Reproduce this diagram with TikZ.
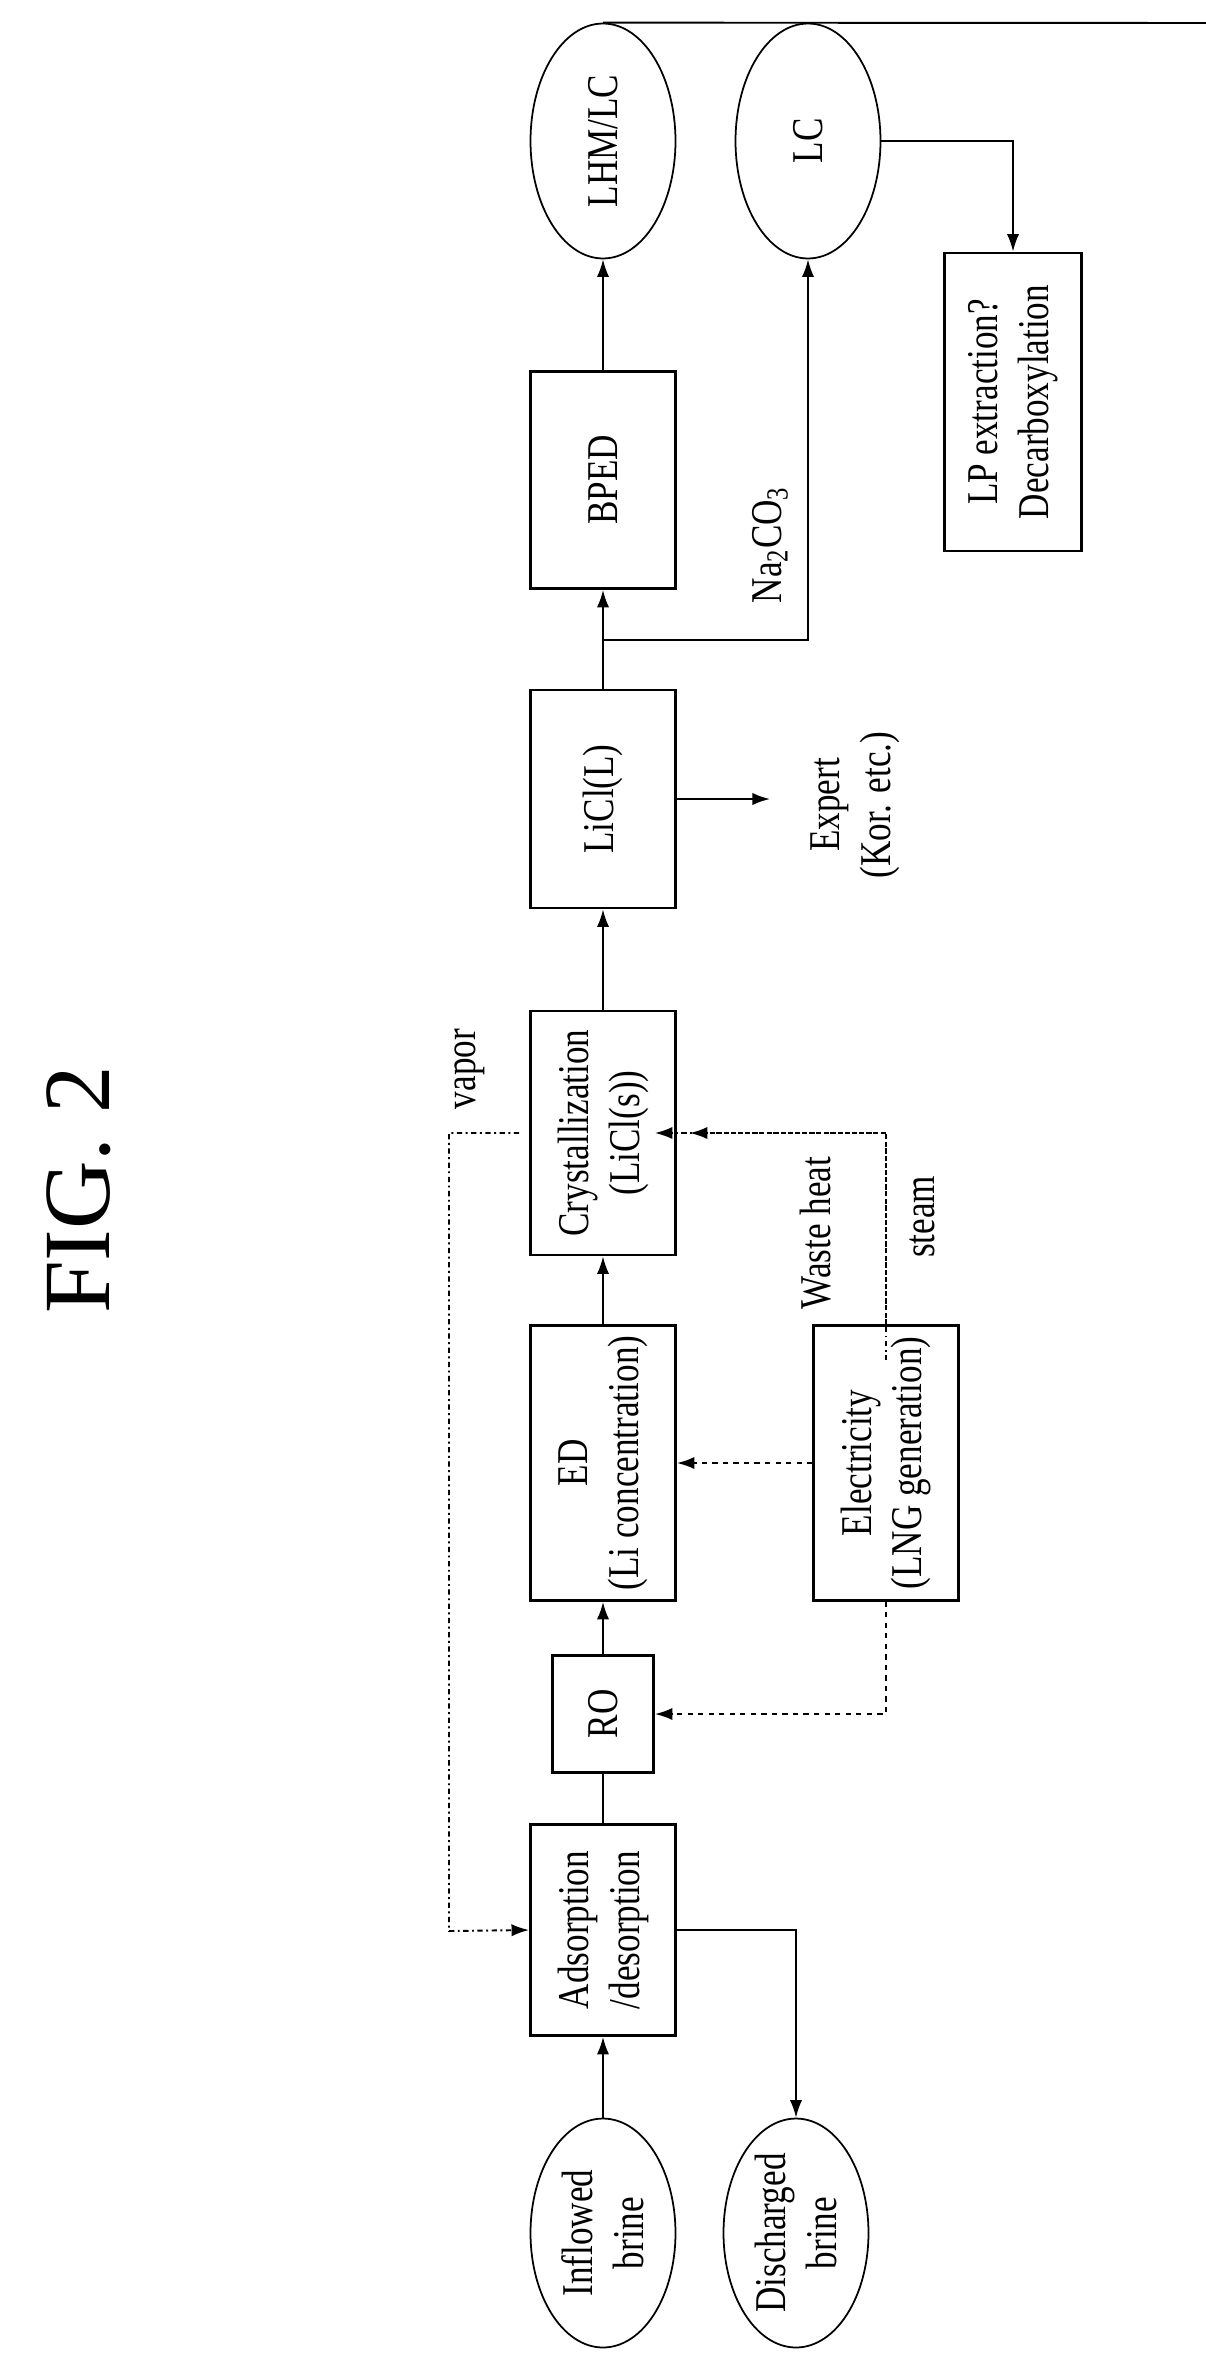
\documentclass[tikz,border=0pt]{standalone}
\usepackage{fontspec}
\setmainfont[FakeStretch=0.8]{Liberation Serif}
\newfontfamily\titlefont{Liberation Serif}
\usetikzlibrary{shapes.geometric,arrows.meta}

\begin{document}
\begin{tikzpicture}[x=0.02cm,y=0.02cm,
    every node/.append style={rotate=90, align=center, inner sep=0pt,
      font=\fontsize{25}{29}\selectfont},
    process/.style={draw, rectangle, line width=1.6pt, minimum height=2.9cm},
    stock/.style={draw, ellipse, line width=1pt, minimum height=2.9cm},
    flow/.style={line width=1.1pt, -{Latex[length=10pt,width=7pt]}},
    power/.style={flow, dashed},
    heat/.style={flow, dash dot}
  ]
  \useasboundingbox (0,0) rectangle (1206,-2373);
  % Title
  \node[font=\titlefont\fontsize{54}{60}\selectfont] (fig) at (79,-1190) {FIG. 2};
  %
  % Main line
  \node[stock, minimum width=4.58cm] (inb) at (603,-2233) {Inflowed\\brine};
  \node[stock, minimum width=4.58cm] (dis) at (796,-2233) {Discharged\\brine};
  \node[process, minimum width=4.22cm] (ads) at (603,-1930) {Adsorption\\/desorption};
  \node[process, minimum width=2.34cm, minimum height=2.02cm] (ro) at (603,-1714) {RO};
  \node[process, minimum width=5.5cm] (ed) at (603,-1463) {ED\\(Li concentration)};
  \node[process, minimum width=4.88cm] (cry) at (603,-1133) {Crystallization\\(LiCl(s))};
  \node[process, minimum width=4.36cm] (licl) at (603,-799) {LiCl(L)};
  \node[process, minimum width=4.34cm] (bped) at (603,-480) {BPED};
  \node[stock, minimum width=4.7cm] (lhm) at (603,-141) {LHM/LC};
  \node[stock, minimum width=4.7cm] (lc) at (808,-141) {LC};
  \node[process, minimum width=5.96cm, minimum height=2.74cm] (lp) at (1013,-402)
    {LP extraction?\\Decarboxylation};
  % Energy
  \node[process, minimum width=5.5cm, line width=1.2pt] (elec) at (886,-1463)
    {Electricity\\(LNG generation)};
  % Labels
  \node (expert) at (855,-805) {Expert\\(Kor. etc.)};
  \node (naco) at (770,-545) {Na\textsubscript{2}CO\textsubscript{3}};
  \node (waste) at (816,-1233) {Waste heat};
  \node (steam) at (922,-1217) {steam};
  \node (vapor) at (470,-1069) {vapor};
  %
  \coordinate (export) at (770,-799);
  \coordinate (split) at (603,-640);
  \coordinate (vap) at (449,-1931);
  \coordinate (topend) at (1206,-23);
  %
  % Connectors
  \draw[flow] (inb) -- (ads);
  \draw[flow] (ads.south) -| (dis.east);
  \draw[line width=1.1pt] (ads) -- (ro);
  \draw[flow] (ro) -- (ed);
  \draw[flow] (ed) -- (cry);
  \draw[flow] (cry) -- (licl);
  \draw[flow] (licl.south) -- (export);
  \draw[flow] (licl) -- (bped);
  \draw[flow] (split) -| (lc.west);
  \draw[flow] (bped) -- (lhm);
  \draw[flow] (lc.south) -| (lp.east);
  \draw[line width=1.1pt] (lhm.east) -- (topend);
  %
  \draw[power] (elec.north) -- (ed.south);
  \draw[power] (elec.west) |- (ro.south);
  \draw[heat] ([yshift=-36*0.02cm]elec.east) |- ([xshift=-22*0.02cm]cry.south);
  \draw[heat] (elec.east) |- ([xshift=13*0.02cm]cry.south);
  \draw[heat] ([xshift=-10*0.02cm]cry.north) -| (vap) -- (ads.north);
\end{tikzpicture}
\end{document}
